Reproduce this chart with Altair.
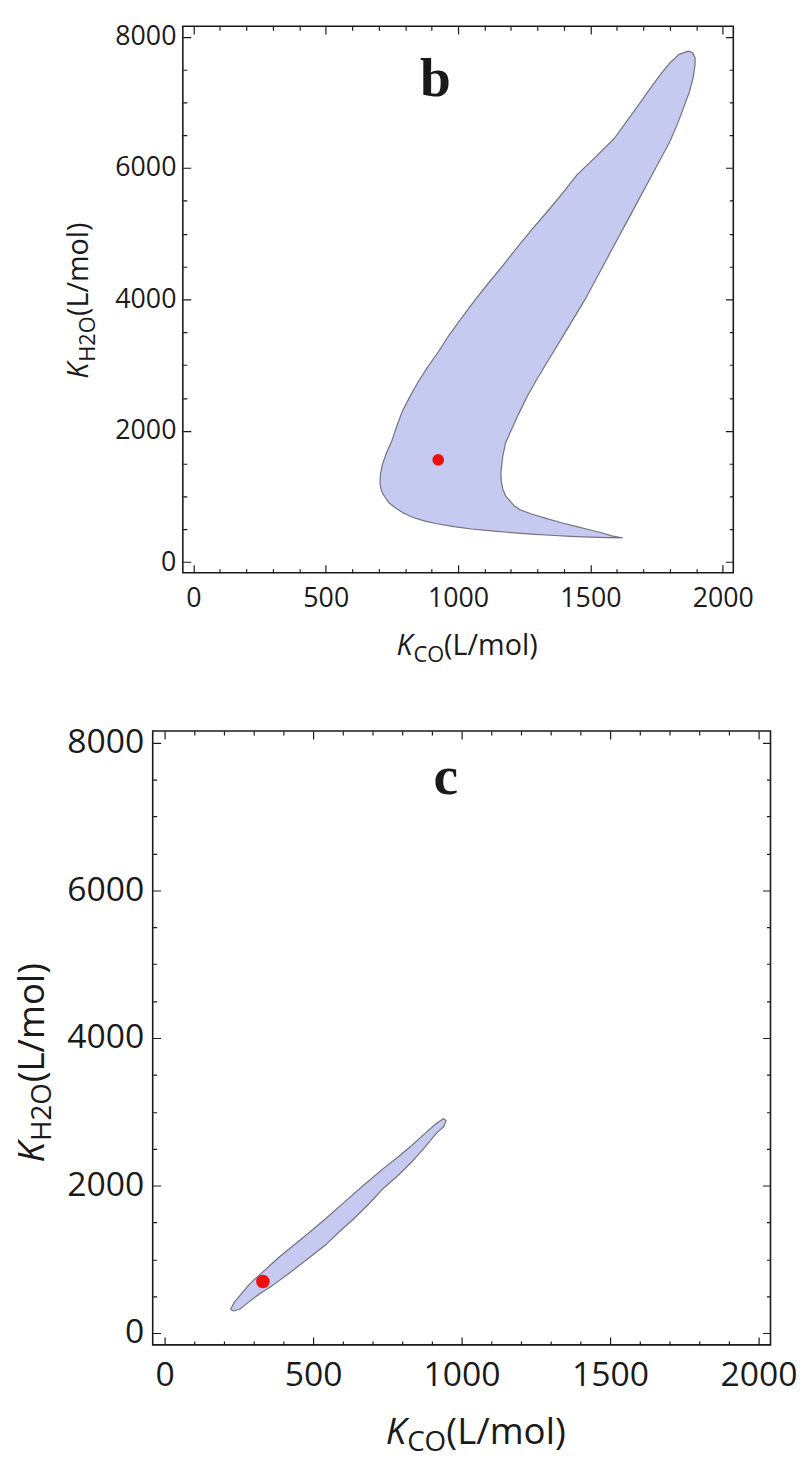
import altair as alt
import pandas as pd

# ---------------- data ----------------
# panel b : confidence region boundary (K_CO, K_H2O)
b_region_x = [1870, 1835, 1800, 1760, 1720, 1680, 1635, 1590, 1520, 1450, 1395, 1340, 1280,
              1225, 1170, 1115, 1060, 1010, 965, 925, 885, 850, 818, 790, 768, 750, 730,
              715, 707, 705, 710, 722, 740, 765, 795, 830, 875, 920, 985, 1050, 1125, 1200,
              1275, 1350, 1425, 1500, 1565, 1620,
              1580, 1546, 1500, 1449, 1390, 1333, 1280, 1236, 1212, 1198, 1180, 1169, 1163,
              1162, 1168, 1179, 1200, 1228, 1262, 1300, 1345, 1390, 1435, 1480, 1520, 1560,
              1600, 1640, 1680, 1720, 1760, 1800, 1830, 1855, 1875, 1888, 1895, 1896, 1885]
b_region_y = [7780, 7730, 7600, 7400, 7180, 6950, 6700, 6450, 6170, 5900, 5620, 5350, 5070,
              4800, 4520, 4250, 3970, 3700, 3450, 3200, 2970, 2750, 2520, 2300, 2070, 1850, 1670,
              1500, 1350, 1200, 1090, 1000, 900, 820, 745, 680, 625, 585, 540, 505, 475, 450,
              428, 410, 393, 382, 374, 370,
              400, 444, 490, 540, 600, 667, 730, 794, 860, 921, 1010, 1111, 1240,
              1365, 1590, 1809, 2000, 2250, 2530, 2800, 3100, 3400, 3700, 4000, 4300, 4600,
              4900, 5200, 5500, 5800, 6100, 6400, 6680, 6950, 7170, 7370, 7560, 7680, 7760]
b_best_x = [925]
b_best_y = [1558]

# panel c : confidence region boundary
c_region_x = [222, 235, 286, 383, 479, 545, 608, 672, 737, 790, 833, 875, 914, 938,
              948, 940, 914, 875, 833, 787, 737, 690, 640, 590, 544, 480, 415, 365, 319,
              280, 254, 232]
c_region_y = [320, 420, 664, 1022, 1336, 1560, 1785, 2010, 2233, 2400, 2547, 2700, 2838, 2906,
              2880, 2800, 2704, 2515, 2323, 2140, 1964, 1760, 1560, 1380, 1202, 1000, 798, 650,
              529, 410, 327, 300]
c_best_x = [331]
c_best_y = [700]

x_tick_values = list(range(0, 2001, 100))
y_tick_values = list(range(0, 8001, 500))
x_label_values = [0, 500, 1000, 1500, 2000]
y_label_values = [0, 2000, 4000, 6000, 8000]
x_domain = [-40, 2040]
y_domain = [-160, 8160]

FILL = "#c6c9f0"
EDGE = "#727280"
RED = "#ee1010"
INK = "#1a1a1a"
FONT = "Open Sans"


def tick_axis(orient, values, major_every, span):
    return alt.Axis(
        orient=orient, values=values, labels=False, ticks=False, domain=False,
        grid=True, gridColor=INK, gridOpacity=1, gridWidth=1.2,
        gridDash={"condition": {"test": f"datum.value % {major_every} === 0",
                                "value": [8, span - 16, 8, 5000]},
                  "value": [4, span - 8, 4, 5000]},
        title=None, zindex=1)


def label_axis(orient, values, fs, pad):
    return alt.Axis(
        orient=orient, values=values, format="d", ticks=False, domain=False, grid=False,
        labelFont=FONT, labelFontSize=fs, labelColor=INK, labelPadding=pad,
        labelFlush=False, labelOverlap=False, title=None, zindex=1)


def txt(s, **kw):
    opts = {"font": FONT, "color": INK}
    opts.update(kw)
    return alt.Chart(pd.DataFrame({"t": [s]})).mark_text(**opts)


def panel(rx, ry, px, py, W, H, letter, lpos, lab_fs, tfs, sfs, xpad, ypad,
          xt, yt, ysep, dot_size, right_room=None):
    df = pd.DataFrame({"x": rx + [rx[0]], "y": ry + [ry[0]], "o": list(range(len(rx) + 1))})
    xs = alt.Scale(domain=x_domain, nice=False, zero=False)
    ys = alt.Scale(domain=y_domain, nice=False, zero=False)
    region = alt.Chart(df).mark_line(fill=FILL, stroke=EDGE, strokeWidth=1.2,
                                     strokeJoin="round").encode(
        x=alt.X("x:Q", scale=xs, axis=tick_axis("bottom", x_tick_values, 500, H)),
        y=alt.Y("y:Q", scale=ys, axis=tick_axis("left", y_tick_values, 2000, W)),
        order="o:Q")
    dot = alt.Chart(pd.DataFrame({"x": px, "y": py})).mark_circle(
        color=RED, opacity=1, size=dot_size).encode(
        x=alt.X("x:Q", scale=xs, axis=label_axis("bottom", x_label_values, lab_fs, xpad)),
        y=alt.Y("y:Q", scale=ys, axis=label_axis("left", y_label_values, lab_fs, ypad)))

    lab = txt(letter, font="Liberation Serif", fontWeight="bold", fontSize=56,
              align="center", baseline="alphabetic").encode(
        text="t:N", x=alt.value(lpos[0]), y=alt.value(lpos[1]))

    # x title  K_CO(L/mol)
    ax, ay = xt
    xk = txt("K", fontSize=tfs, fontStyle="italic", align="right", baseline="alphabetic").encode(
        text="t:N", x=alt.value(ax), y=alt.value(ay))
    xs_ = txt("CO", fontSize=sfs, align="left", baseline="alphabetic", dx=1, dy=7).encode(
        text="t:N", x=alt.value(ax), y=alt.value(ay))
    xu = txt("(L/mol)", fontSize=tfs, align="left", baseline="alphabetic").encode(
        text="t:N", x=alt.value(ax + sfs * 1.45), y=alt.value(ay))

    # y title  K_H2O(L/mol)   (rotated)
    bx, by = yt
    yk = txt("K", fontSize=tfs, fontStyle="italic", angle=270, align="right",
             baseline="alphabetic").encode(text="t:N", x=alt.value(bx), y=alt.value(by))
    ys_ = txt("H2O", fontSize=sfs, angle=270, align="left", baseline="alphabetic",
              dx=1, dy=7).encode(text="t:N", x=alt.value(bx), y=alt.value(by))
    yu = txt(ysep + "(L/mol)", fontSize=tfs, angle=270, align="left",
             baseline="alphabetic").encode(
        text="t:N", x=alt.value(bx), y=alt.value(by - sfs * 2.15))

    layers = [region, dot, lab, xk, xs_, xu, yk, ys_, yu]
    if right_room is not None:
        # invisible layout spacer on the right of the panel (keeps panel offset as in the figure)
        layers.append(txt(".", fontSize=10, opacity=0, align="right", baseline="middle").encode(
            text="t:N", x=alt.value(right_room), y=alt.value(H / 2)))
    return alt.layer(*layers).resolve_axis(
        x="independent", y="independent").properties(width=W, height=H)


pb = panel(b_region_x, b_region_y, b_best_x, b_best_y, 556, 552, "b", (255, 71),
           27, 29, 22, 13, 7, (232, 635), (-96, 340), "", 140, right_room=590)
pc = panel(c_region_x, c_region_y, c_best_x, c_best_y, 624, 620, "c", (296, 64),
           34, 37, 28, 14, 9, (256, 720), (-110, 415), " ", 190)

chart = alt.vconcat(pb, pc, spacing=59, center=True).properties(
    padding={"left": 5, "top": 6, "right": 5, "bottom": 5}
).configure_view(stroke=INK, strokeWidth=1.6)

chart.save("out.html", embed_options={"renderer": "svg", "actions": False})
